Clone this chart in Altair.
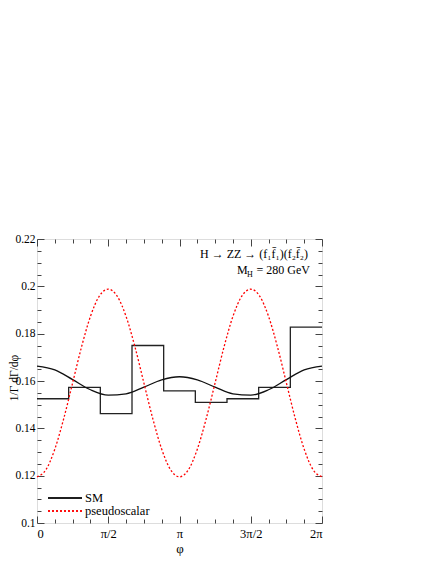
import altair as alt
import pandas as pd

# ---- data (phi in units of pi) ----
hist_edges = [0, 0.2222, 0.4444, 0.6667, 0.8889, 1.1111, 1.3333, 1.5556, 1.7778, 2.0]
hist_values = [0.1525, 0.1573, 0.1462, 0.1750, 0.1558, 0.1510, 0.1525, 0.1573, 0.1828]

sm_phi = [0, 0.125, 0.25, 0.375, 0.5, 0.625, 0.75, 0.875, 1.0,
          1.125, 1.25, 1.375, 1.5, 1.625, 1.75, 1.875, 2.0]
sm_values = [0.1663, 0.1647, 0.1606, 0.1563, 0.1540, 0.1546, 0.1574, 0.1605, 0.1618,
             0.1605, 0.1574, 0.1546, 0.1540, 0.1563, 0.1606, 0.1647, 0.1663]

ps_phi = [0, 0.0625, 0.125, 0.1875, 0.25, 0.3125, 0.375, 0.4375, 0.5,
          0.5625, 0.625, 0.6875, 0.75, 0.8125, 0.875, 0.9375, 1.0,
          1.0625, 1.125, 1.1875, 1.25, 1.3125, 1.375, 1.4375, 1.5,
          1.5625, 1.625, 1.6875, 1.75, 1.8125, 1.875, 1.9375, 2.0]
ps_values = [0.1195, 0.1225, 0.1312, 0.1441, 0.1592, 0.1744, 0.1873, 0.1959, 0.1988,
             0.1959, 0.1873, 0.1744, 0.1592, 0.1441, 0.1312, 0.1225, 0.1195,
             0.1225, 0.1312, 0.1441, 0.1592, 0.1744, 0.1873, 0.1959, 0.1988,
             0.1959, 0.1873, 0.1744, 0.1592, 0.1441, 0.1312, 0.1225, 0.1195]

x_major = [0, 0.5, 1, 1.5, 2]
x_labels = ["0", "π/2", "π", "3π/2", "2π"]
x_minor = [0.125, 0.25, 0.375, 0.625, 0.75, 0.875, 1.125, 1.25, 1.375,
           1.625, 1.75, 1.875]
y_major = [0.1, 0.12, 0.14, 0.16, 0.18, 0.2, 0.22]
y_labels = ["0.1", "0.12", "0.14", "0.16", "0.18", "0.2", "0.22"]
y_minor = [0.105, 0.11, 0.115, 0.125, 0.13, 0.135, 0.145, 0.15, 0.155,
           0.165, 0.17, 0.175, 0.185, 0.19, 0.195, 0.205, 0.21, 0.215]

series_names = ["SM", "pseudoscalar"]
x_title = "φ"
y_title = "1/Γ dΓ/dφ"
title_line1 = "H → ZZ → (f₁f̄₁)(f₂f̄₂)"
title_line2 = ["M", "H", "= 280 GeV"]

FONT = "Liberation Serif"
TICK_COLOR = "#444444"

hist_df = pd.DataFrame({"phi": hist_edges, "v": hist_values + [hist_values[-1]]})
sm_df = pd.DataFrame({"phi": sm_phi, "v": sm_values})
ps_df = pd.DataFrame({"phi": ps_phi, "v": ps_values})

xs = alt.Scale(domain=[0, 2], nice=False, zero=False)
ys = alt.Scale(domain=[0.1, 0.22], nice=False, zero=False)


def label_expr(vals, labs):
    expr = "''"
    for v, l in zip(reversed(vals), reversed(labs)):
        expr = f"abs(datum.value - {v}) < 1e-6 ? '{l}' : ({expr})"
    return expr


def tick_axis(orient, values, size):
    return alt.Axis(orient=orient, values=values, tickSize=size, offset=-size,
                    labels=False, domain=False, grid=False, title=None,
                    tickColor=TICK_COLOR, tickWidth=1)


x_lab_axis = alt.Axis(orient="bottom", values=x_major, ticks=False, domain=False,
                      grid=False, labelExpr=label_expr(x_major, x_labels),
                      labelFont=FONT, labelFontSize=12.5, labelColor="black",
                      labelPadding=4, title=x_title, titleFont=FONT,
                      titleFontSize=13, titleFontWeight="normal",
                      titleColor="black", titlePadding=3)
y_lab_axis = alt.Axis(orient="left", values=y_major, ticks=False, domain=False,
                      grid=False, labelExpr=label_expr(y_major, y_labels),
                      labelFont=FONT, labelFontSize=11.5, labelColor="black",
                      labelPadding=2, title=None)

hist = alt.Chart(hist_df).mark_line(
    interpolate="step-after", color="#222222", strokeWidth=1.3
).encode(
    x=alt.X("phi:Q", scale=xs, axis=x_lab_axis),
    y=alt.Y("v:Q", scale=ys, axis=y_lab_axis),
)

sm = alt.Chart(sm_df).mark_line(
    interpolate="monotone", color="#111111", strokeWidth=1.3
).encode(
    x=alt.X("phi:Q", scale=xs, axis=tick_axis("bottom", x_major, 7)),
    y=alt.Y("v:Q", scale=ys, axis=tick_axis("left", y_major, 7)),
)

ps = alt.Chart(ps_df).mark_line(
    interpolate="monotone", color="#ff0000", strokeWidth=1.3, strokeDash=[2, 2]
).encode(
    x=alt.X("phi:Q", scale=xs, axis=tick_axis("bottom", x_minor, 4)),
    y=alt.Y("v:Q", scale=ys, axis=tick_axis("left", y_minor, 4)),
)

inv1 = alt.Chart(sm_df).mark_point(opacity=0).encode(
    x=alt.X("phi:Q", scale=xs, axis=tick_axis("top", x_major, 7)),
    y=alt.Y("v:Q", scale=ys, axis=tick_axis("right", y_major, 7)),
)
inv2 = alt.Chart(sm_df).mark_point(opacity=0).encode(
    x=alt.X("phi:Q", scale=xs, axis=tick_axis("top", x_minor, 4)),
    y=alt.Y("v:Q", scale=ys, axis=tick_axis("right", y_minor, 4)),
)


def text_layer(t, x, y, size=12.5, align="left", baseline="alphabetic", angle=0):
    return alt.Chart(pd.DataFrame({"t": [t]})).mark_text(
        font=FONT, fontSize=size, align=align, baseline=baseline,
        color="black", angle=angle
    ).encode(x=alt.value(x), y=alt.value(y), text="t:N")


# y-axis title (rotated)
ytitle = text_layer(y_title, -19.5, 139, size=11.5, align="center",
                    baseline="alphabetic", angle=270)

# legend
leg_df = pd.DataFrame({"name": series_names})
leg_sm_line = alt.Chart(leg_df).mark_rule(color="#111111", strokeWidth=1.3).encode(
    x=alt.value(11), x2=alt.value(45), y=alt.value(259))
leg_ps_line = alt.Chart(leg_df).mark_rule(
    color="#ff0000", strokeWidth=1.3, strokeDash=[2, 2]).encode(
    x=alt.value(11), x2=alt.value(45), y=alt.value(272))
leg_sm_text = text_layer(series_names[0], 48, 259, baseline="middle")
leg_ps_text = text_layer(series_names[1], 48, 272, baseline="middle")

# annotation
ann1 = text_layer(title_line1, 271, 19, size=12, align="right")
ann2_m = text_layer(title_line2[0], 200, 35, size=12)
ann2_h = text_layer(title_line2[1], 210, 38, size=8)
ann2_rest = text_layer(title_line2[2], 219.5, 35, size=12)

chart = alt.layer(
    hist, sm, ps, inv1, inv2, ytitle,
    leg_sm_line, leg_ps_line, leg_sm_text, leg_ps_text,
    ann1, ann2_m, ann2_h, ann2_rest,
).resolve_axis(
    x="independent", y="independent"
).properties(
    width=285, height=284,
    autosize=alt.AutoSizeParams(type="none"),
    padding={"left": 29, "top": 231, "right": 102, "bottom": 38},
).configure_view(
    stroke="black", strokeWidth=1.3
).configure(
    font=FONT
)

chart.save("out.html", embed_options={"renderer": "svg", "actions": False})
